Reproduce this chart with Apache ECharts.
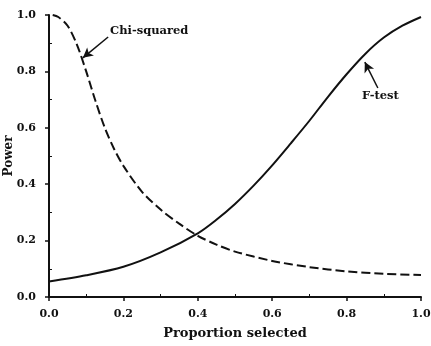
<!DOCTYPE html>
<html><head><meta charset="utf-8">
<script src="https://cdn.jsdelivr.net/npm/echarts@6/dist/echarts.min.js"></script>
<style>html,body{margin:0;padding:0;background:#fff}#c{width:431px;height:346px}</style>
</head><body><div id="c"></div>
<script>
const xTicks = [0.0, 0.2, 0.4, 0.6, 0.8, 1.0];
const yTicks = [0.0, 0.2, 0.4, 0.6, 0.8, 1.0];
const chiX = [0.01,0.025,0.05,0.075,0.1,0.125,0.15,0.175,0.2,0.25,0.3,0.35,0.4,0.45,0.5,0.6,0.7,0.8,0.9,1.0];
const chiY = [1.0,0.993,0.962,0.895,0.80,0.695,0.60,0.525,0.465,0.373,0.31,0.26,0.217,0.186,0.161,0.128,0.106,0.091,0.082,0.078];
const fX = [0,0.1,0.2,0.3,0.4,0.45,0.5,0.55,0.6,0.65,0.7,0.75,0.8,0.85,0.9,0.95,1.0];
const fY = [0.055,0.077,0.107,0.158,0.226,0.274,0.33,0.395,0.467,0.545,0.625,0.71,0.79,0.862,0.92,0.962,0.993];
const chiLabel = 'Chi-squared';
const fLabel = 'F-test';
const chiArrow = [[0.159,0.922],[0.091,0.848]];
const fArrow = [[0.884,0.741],[0.849,0.833]];

const font = '"DejaVu Serif", serif';
const ink = '#111';
const zip = (a,b)=>a.map((v,i)=>[v,b[i]]);
const arrowLine = pts => ({silent:true,symbol:['none','arrow'],symbolSize:[8,10],
  lineStyle:{color:ink,width:1.5,type:'solid'},label:{show:false},
  data:[[{coord:pts[0]},{coord:pts[1]}]]});
const chart = echarts.init(document.getElementById('c'));
chart.setOption({
  backgroundColor:'#fff',
  animation:false,
  grid:{left:49,right:10,top:15,bottom:49,containLabel:false,outerBoundsMode:'none'},
  xAxis:{type:'value',min:xTicks[0],max:xTicks[xTicks.length-1],interval:0.2,
    name:'Proportion selected',nameLocation:'middle',nameGap:30,nameMoveOverlap:false,
    nameTextStyle:{fontFamily:font,fontWeight:'bold',fontSize:13,color:ink},
    axisLine:{lineStyle:{color:ink,width:2}},
    axisTick:{length:4,lineStyle:{color:ink,width:1.5}},
    minorTick:{show:true,splitNumber:2,length:-3,lineStyle:{color:ink}},
    splitLine:{show:false},
    axisLabel:{margin:12,fontFamily:font,fontWeight:'bold',fontSize:11,color:ink,formatter:v=>v.toFixed(1)}},
  yAxis:{type:'value',min:yTicks[0],max:yTicks[yTicks.length-1],interval:0.2,offset:4,
    name:'Power',nameLocation:'middle',nameGap:30,nameMoveOverlap:false,
    nameTextStyle:{fontFamily:font,fontWeight:'bold',fontSize:12,color:ink},
    axisLine:{show:true,lineStyle:{color:ink,width:2}},
    axisTick:{show:true,length:4,lineStyle:{color:ink,width:1.5}},
    minorTick:{show:true,splitNumber:2,length:-3,lineStyle:{color:ink}},
    splitLine:{show:false},
    axisLabel:{margin:9,fontFamily:font,fontWeight:'bold',fontSize:11,color:ink,formatter:v=>v.toFixed(1)}},
  series:[
    {type:'line',data:zip(chiX,chiY),smooth:0.3,showSymbol:false,
      lineStyle:{color:ink,width:2,type:[9,4]},markLine:arrowLine(chiArrow)},
    {type:'line',data:zip(fX,fY),smooth:0.3,showSymbol:false,
      lineStyle:{color:ink,width:2},markLine:arrowLine(fArrow)}
  ],
  graphic:[
    {type:'text',left:110,top:25,style:{text:chiLabel,font:'bold 11.5px '+font,fill:ink}},
    {type:'text',left:362,top:90,style:{text:fLabel,font:'bold 11.5px '+font,fill:ink}}
  ]
});
</script></body></html>
